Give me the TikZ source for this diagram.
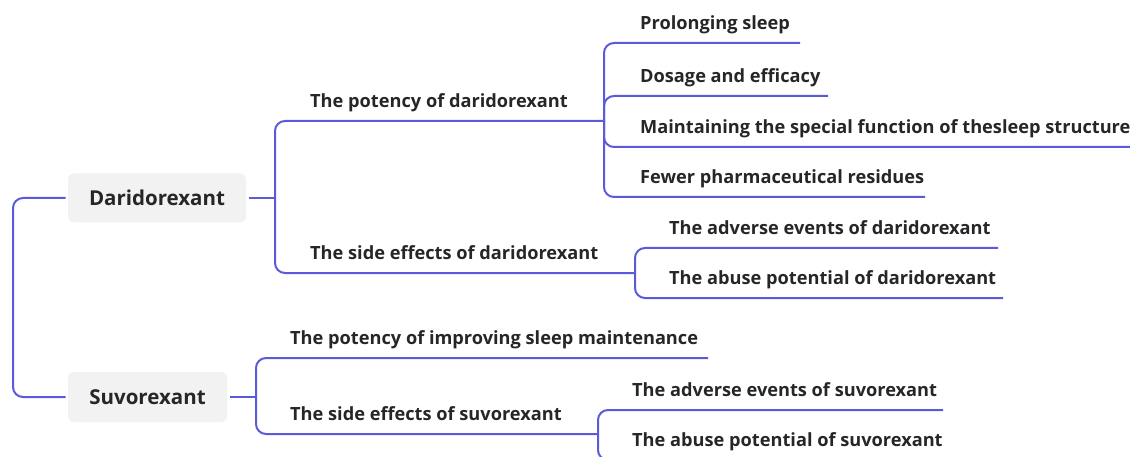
\documentclass[tikz,border=0pt]{standalone}
\usepackage{fontspec}
\setmainfont{Open Sans}
\definecolor{ln}{HTML}{5B5BD9}
\definecolor{tx}{HTML}{262626}
\definecolor{bx}{HTML}{F2F2F2}
\begin{document}
\begin{tikzpicture}[x=1pt,y=-1pt,
  conn/.style={draw=ln, line width=2pt, rounded corners=10pt},
  lbl/.style={anchor=base west, inner sep=0pt, text=tx, font=\bfseries\fontsize{18.2}{20}\selectfont},
  rootbox/.style={fill=bx, rounded corners=6pt, text=tx, inner sep=0pt, outer sep=2.5pt, font=\bfseries\fontsize{20.5}{24}\selectfont}]
\useasboundingbox (0,0) rectangle (1130,457);
% root boxes
\node[rootbox, minimum width=178pt, minimum height=49pt] (dar) at (157,198) {Daridorexant};
\node[rootbox, minimum width=159pt, minimum height=50pt] (suv) at (147.5,397) {Suvorexant};
\coordinate (rj) at (13,298);
\draw[conn] (rj) |- (dar.west);
\draw[conn] (rj) |- (suv.west);
% daridorexant branches
\coordinate (dj) at (275,198);
\coordinate (p1) at (604,121);
\coordinate (s1) at (635,273);
\draw[conn] (dar.east) -- (dj);
\draw[conn] (dj) |- (p1);
\draw[conn] (dj) |- (s1);
\node[lbl] (tp1) at (310,107.5) {The potency of daridorexant};
\node[lbl] (ts1) at (310,259.5) {The side effects of daridorexant};
% potency leaves
\coordinate (l1) at (800,43);
\coordinate (l2) at (828,96);
\coordinate (l3) at (1132,147);
\coordinate (l4) at (925,197);
\draw[conn] (p1) |- (l1);
\draw[conn] (p1) |- (l2);
\draw[conn] (p1) |- (l3);
\draw[conn] (p1) |- (l4);
\node[lbl] (tl1) at (640,29.5) {Prolonging sleep};
\node[lbl] (tl2) at (640,82.5) {Dosage and efficacy};
\node[lbl] (tl3) at (640,133.5) {Maintaining the special function of thesleep structure};
\node[lbl] (tl4) at (640,183.5) {Fewer pharmaceutical residues};
% side effect leaves
\coordinate (k1) at (998,248);
\coordinate (k2) at (1003,298);
\draw[conn] (s1) |- (k1);
\draw[conn] (s1) |- (k2);
\node[lbl] (tk1) at (669,234.5) {The adverse events of daridorexant};
\node[lbl] (tk2) at (669,284.5) {The abuse potential of daridorexant};
% suvorexant branches
\coordinate (sj) at (256,397);
\coordinate (q1) at (708,358);
\coordinate (q2) at (598,434);
\draw[conn] (suv.east) -- (sj);
\draw[conn] (sj) |- (q1);
\draw[conn] (sj) |- (q2);
\node[lbl] (tq1) at (290,344.5) {The potency of improving sleep maintenance};
\node[lbl] (tq2) at (290,420.5) {The side effects of suvorexant};
\coordinate (m1) at (943,410);
\coordinate (m2) at (945,460);
\draw[conn] (q2) |- (m1);
\draw[conn] (q2) |- (m2);
\node[lbl] (tm1) at (632,396) {The adverse events of suvorexant};
\node[lbl] (tm2) at (632,446.5) {The abuse potential of suvorexant};
\end{tikzpicture}
\end{document}
